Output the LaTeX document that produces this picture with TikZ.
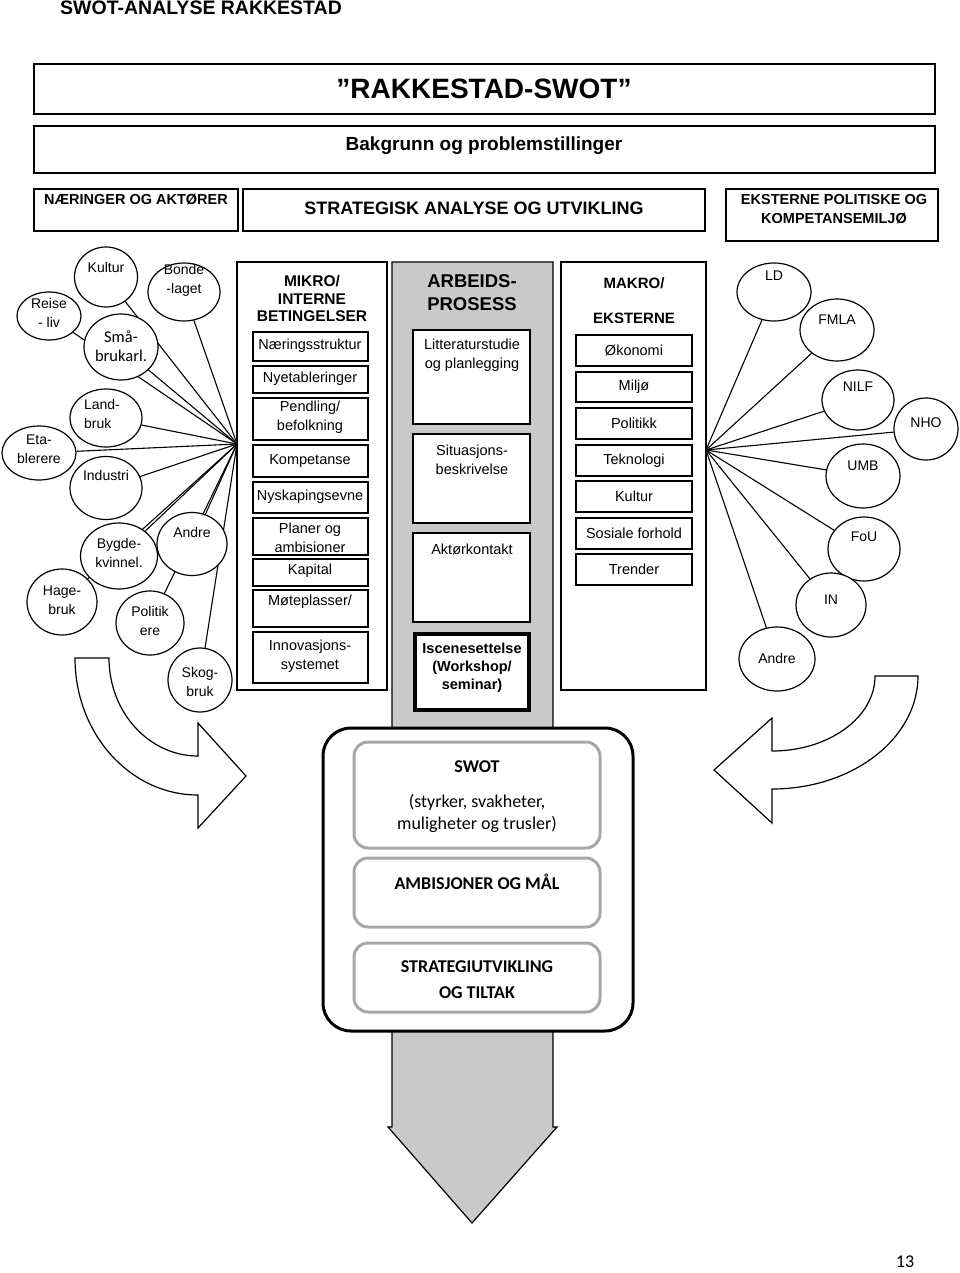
\documentclass[tikz,border=0pt]{standalone}
\usepackage{fontspec}
\setmainfont{Liberation Sans}
\newfontfamily\calfont{Carlito}
\usetikzlibrary{shapes.geometric,backgrounds}

\definecolor{colgray}{gray}{0.79}
\definecolor{rimgray}{gray}{0.66}

\tikzset{
  box/.style={draw, fill=white, line width=1.3pt},
  txt/.style={font=\fontsize{14.5}{18.5}\selectfont, align=center, inner sep=0pt},
  btxt/.style={font=\bfseries\fontsize{14.5}{19}\selectfont, align=center, inner sep=0pt},
  actor/.style={draw, ellipse, fill=white, line width=1.2pt, inner sep=0pt},
  atxt/.style={font=\fontsize{14}{19}\selectfont, align=center, inner sep=0pt},
  ctxt/.style={font=\calfont\fontsize{18}{22}\selectfont, align=center, inner sep=0pt},
  cbtxt/.style={font=\calfont\bfseries\fontsize{18}{26}\selectfont, align=center, inner sep=0pt},
  link/.style={line width=1.1pt},
}

\begin{document}
\begin{tikzpicture}[x=1pt,y=-1pt]
  \useasboundingbox (0,0) rectangle (960,1273);

  % heading
  \node[anchor=west, font=\bfseries\fontsize{19.5}{22}\selectfont, inner sep=0pt] (title) at (60,8) {SWOT-ANALYSE RAKKESTAD};
  \draw[box] (34,64) rectangle (935,114);
  \node[font=\bfseries\fontsize{28}{32}\selectfont, inner sep=0pt] (rkswot) at (484,89) {”RAKKESTAD-SWOT”};
  \draw[box] (34,126) rectangle (935,173);
  \node[font=\bfseries\fontsize{19}{22}\selectfont, inner sep=0pt] (bakgr) at (484,146) {Bakgrunn og problemstillinger};
  \draw[box] (34,189) rectangle (238,231);
  \node[btxt] (naer) at (136,200) {NÆRINGER OG AKTØRER};
  \draw[box] (243,189) rectangle (705,231);
  \node[btxt, font=\bfseries\fontsize{18}{20}\selectfont] (strat) at (474,208) {STRATEGISK ANALYSE OG UTVIKLING};
  \draw[box] (726,189) rectangle (938,241);
  \node[btxt] (ekst) at (834,209.5) {EKSTERNE POLITISKE OG\\KOMPETANSEMILJØ};

  % middle column
  \filldraw[fill=colgray, line width=1.2pt] (392,262) -- (553,262) -- (553,1127) -- (557,1127) -- (472,1223) -- (388,1127) -- (392,1127) -- cycle;
  \node[btxt, font=\bfseries\fontsize{18.5}{23}\selectfont] (arbeid) at (472,292.5) {ARBEIDS-\\PROSESS};
  \draw[box] (413,330) rectangle (530,424);
  \node[txt, font=\fontsize{14.5}{19}\selectfont] (litt) at (472,355.5) {Litteraturstudie\\og planlegging};
  \draw[box] (413,434) rectangle (530,523);
  \node[txt] (situ) at (472,460) {Situasjons-\\beskrivelse};
  \draw[box] (413,533) rectangle (530,622);
  \node[txt] (aktor) at (472,549) {Aktørkontakt};
  \draw[box, line width=3.5pt] (415,634) rectangle (529,710);
  \node[btxt, font=\bfseries\fontsize{14.5}{18}\selectfont] (iscen) at (472,668) {Iscenesettelse\\(Workshop/\\seminar)};

  % mikro
  \draw[box] (237,262) rectangle (387,690);
  \node[btxt, font=\bfseries\fontsize{15.5}{17.5}\selectfont] (mikro) at (312,298.5) {MIKRO/\\INTERNE\\BETINGELSER};
  \foreach \ya/\yb/\ty/\t [count=\i] in {332/361/346/Næringsstruktur, 366/393/379/Nyetableringer,
      398/440/417/{Pendling/\\befolkning}, 445/477/461/Kompetanse, 482/513/497/Nyskapingsevne,
      518/555/538/{Planer og\\ambisioner}, 559/586/571/Kapital, 590/627/602/{Møteplasser/},
      632/683/656/{Innovasjons-\\systemet}}
  {
    \draw[box] (253,\ya) rectangle (368,\yb);
    \node[txt] (mik\i) at (310,\ty) {\t};
  }

  % makro
  \draw[box] (561,262) rectangle (706,690);
  \node[btxt, font=\bfseries\fontsize{15}{35}\selectfont] (makro) at (634,300.5) {MAKRO/\\EKSTERNE};
  \foreach \ya/\yb/\t [count=\i] in {335/366/Økonomi, 372/402/Miljø, 408/439/Politikk,
      445/476/Teknologi, 481/512/Kultur, 518/549/Sosiale forhold, 554/585/Trender}
  {
    \draw[box] (576,\ya) rectangle (692,\yb);
    \node[txt] (mak\i) at (634,{(\ya+\yb)/2}) {\t};
  }

  % actors, left
  \coordinate (lhub) at (237,444);
  \node[actor, minimum width=64pt, minimum height=48pt, label={[atxt,yshift=3.5pt]center:Reise\\- liv}] (reise) at (49,316) {};
  \node[actor, minimum width=63pt, minimum height=60pt, label={[atxt,yshift=10pt]center:Kultur}] (kultur) at (106,277) {};
  \node[actor, minimum width=72pt, minimum height=58pt, label={[atxt,yshift=11.5pt]center:Bonde\\-laget}] (bonde) at (184,292) {};
  \node[actor, minimum width=74pt, minimum height=66pt, label={[ctxt,font=\calfont\fontsize{16.5}{19}\selectfont,yshift=1pt]center:Små-\\brukarl.}] (smaa) at (121,347) {};
  \node[actor, minimum width=72pt, minimum height=58pt, label={[atxt,align=left,xshift=-4pt,yshift=4.5pt]center:Land-\\bruk}] (land) at (106,418) {};
  \node[actor, minimum width=74pt, minimum height=54pt, label={[atxt,yshift=4pt]center:Eta-\\blerere}] (eta) at (39,453) {};
  \node[actor, minimum width=72pt, minimum height=63pt, label={[atxt,yshift=13pt]center:Industri}] (industri) at (106,488) {};
  \node[actor, minimum width=77pt, minimum height=66pt, label={[atxt,yshift=3pt]center:Bygde-\\kvinnel.}] (bygde) at (119,556) {};
  \node[actor, minimum width=70pt, minimum height=63pt, label={[atxt,yshift=12pt]center:Andre}] (andrel) at (192,544) {};
  \node[actor, minimum width=70pt, minimum height=66pt, label={[atxt,yshift=2pt]center:Hage-\\bruk}] (hage) at (62,602) {};
  \node[actor, minimum width=68pt, minimum height=64pt, label={[atxt,yshift=2.5pt]center:Politik\\ere}] (politik) at (150,623) {};
  \node[actor, minimum width=64pt, minimum height=64pt, label={[atxt,yshift=-1.5pt]center:Skog-\\bruk}] (skog) at (200,680) {};

  % actors, right
  \coordinate (rhub) at (706,450);
  \node[actor, minimum width=74pt, minimum height=58pt, label={[atxt,yshift=16pt]center:LD}] (ld) at (774,292) {};
  \node[actor, minimum width=74pt, minimum height=62pt, label={[atxt,yshift=10pt]center:FMLA}] (fmla) at (837,330) {};
  \node[actor, minimum width=72pt, minimum height=60pt, label={[atxt,yshift=13pt]center:NILF}] (nilf) at (858,400) {};
  \node[actor, minimum width=64pt, minimum height=62pt, label={[atxt,yshift=6pt]center:NHO}] (nho) at (926,429) {};
  \node[actor, minimum width=74pt, minimum height=64pt, label={[atxt,yshift=10pt]center:UMB}] (umb) at (863,476) {};
  \node[actor, minimum width=72pt, minimum height=64pt, label={[atxt,yshift=12pt]center:FoU}] (fou) at (864,549) {};
  \node[actor, minimum width=70pt, minimum height=64pt, label={[atxt,yshift=5pt]center:IN}] (inst) at (831,605) {};
  \node[actor, minimum width=76pt, minimum height=64pt, label={[atxt,yshift=1pt]center:Andre}] (andrer) at (777,659) {};

  \begin{scope}[on background layer]
    \foreach \n in {reise,kultur,bonde,smaa,land,eta,industri,bygde,hage,andrel,politik,skog}
      \draw[link] (\n) -- (lhub);
    \foreach \n in {ld,fmla,nilf,nho,umb,fou,inst,andrer}
      \draw[link] (rhub) -- (\n);
  \end{scope}

  % curved arrows
  \draw[line width=1.2pt, fill=white] (75,658) -- (109,658)
    arc[start angle=180, end angle=270, x radius=89pt, y radius=98pt]
    -- (198,723) -- (246,776) -- (198,828) -- (198,795)
    arc[start angle=270, end angle=180, x radius=123pt, y radius=137pt] -- cycle;
  \draw[line width=1.2pt, fill=white] (875,676) -- (918,676)
    arc[start angle=0, end angle=-90, x radius=146pt, y radius=113pt]
    -- (772,823) -- (714,770) -- (772,718) -- (772,751)
    arc[start angle=-90, end angle=0, x radius=103pt, y radius=75pt] -- cycle;

  % swot
  \draw[line width=3pt, rounded corners=28pt, fill=white] (323,728) rectangle (633,1031);
  \foreach \ya/\yb in {742/848, 858/927, 943/1012}
    \draw[line width=3pt, draw=rimgray, rounded corners=14pt, fill=white] (354,\ya) rectangle (600,\yb);
  \node[cbtxt] (swot) at (477,767) {SWOT};
  \node[ctxt] (swotsub) at (477,813) {(styrker, svakheter,\\muligheter og trusler)};
  \node[cbtxt] (ambis) at (477,882) {AMBISJONER OG MÅL};
  \node[cbtxt] (strategi) at (477,980) {STRATEGIUTVIKLING\\OG TILTAK};

  \node[ctxt] (pnum) at (905,1262) {13};
\end{tikzpicture}
\end{document}
